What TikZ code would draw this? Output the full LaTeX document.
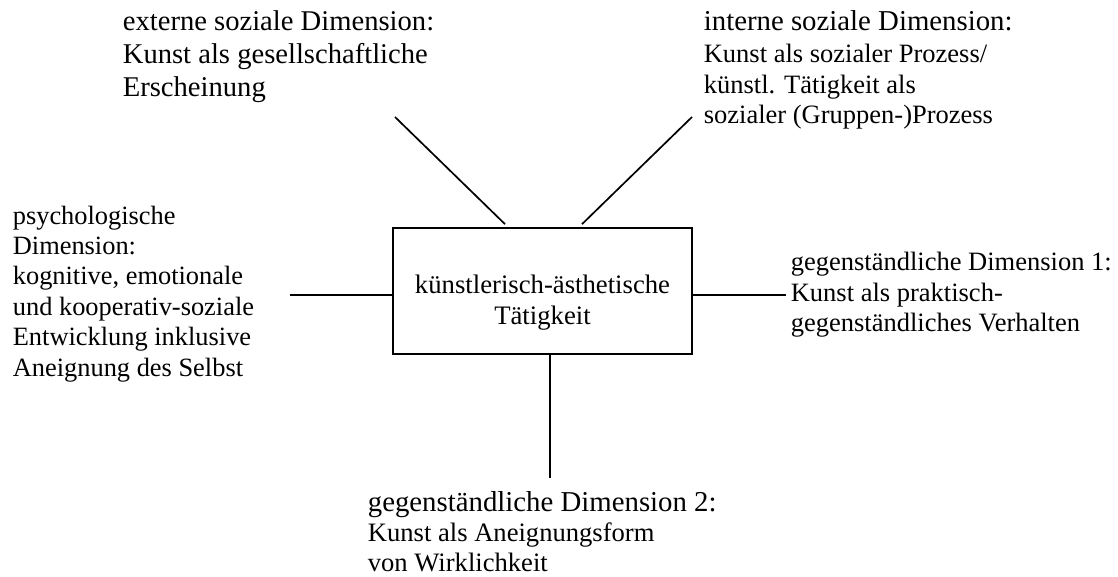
\documentclass[tikz,border=0pt]{standalone}
\usepackage{fontspec}
\setmainfont{Liberation Serif}
\begin{document}
\begin{tikzpicture}[x=1pt,y=-1pt,line width=1.7pt,
  lbl/.style={inner sep=0pt, anchor=base west, align=left},
  boxst/.style={draw, inner sep=0pt, minimum width=299pt, minimum height=126pt}]
\useasboundingbox (0,0) rectangle (1118,577);
% central box
\node[boxst] (box) at (542.5,291) {};
\node[inner sep=0pt, anchor=base, align=center, font=\fontsize{26.7}{31}\selectfont] (boxtext) at (542.5,324) {künstlerisch-ästhetische\\Tätigkeit};
% labels (anchor = baseline of the last line)
\node[lbl, font=\fontsize{28.6}{33}\selectfont] (ext) at (122,97) {externe soziale Dimension:\\Kunst als gesellschaftliche\\Erscheinung};
\node[lbl, font=\fontsize{26.5}{30.5}\selectfont] (int) at (703,124) {{\fontsize{28.8}{31.5}\selectfont interne soziale Dimension:}\\[2pt]Kunst als sozialer Prozess/\\künstl. Tätigkeit als\\sozialer (Gruppen-)Prozess};
\node[lbl, font=\fontsize{26.4}{30.4}\selectfont] (psy) at (12,376) {psychologische\\Dimension:\\kognitive, emotionale\\und kooperativ-soziale\\Entwicklung inklusive\\Aneignung des Selbst};
\node[lbl, font=\fontsize{26.5}{30.5}\selectfont] (geg1) at (790,331.5) {gegenständliche Dimension 1:\\Kunst als praktisch-\\gegenständliches Verhalten};
\node[lbl, font=\fontsize{26.6}{30}\selectfont] (geg2) at (367,571) {{\fontsize{28.8}{30}\selectfont gegenständliche Dimension 2:}\\Kunst als Aneignungsform\\von Wirklichkeit};
% connectors
\coordinate (lfree) at (290,295);
\coordinate (rfree) at (786,295);
\coordinate (bfree) at (550,478);
\coordinate (tlfree) at (395,117);
\coordinate (trfree) at (692,117);
\draw (lfree) -- (lfree -| box.west);
\draw (box.east |- rfree) -- (rfree);
\draw (bfree |- box.south) -- (bfree);
\draw (tlfree) -- ([xshift=-37.5pt,yshift=3pt]box.north);
\draw (trfree) -- ([xshift=39.5pt,yshift=3pt]box.north);
\end{tikzpicture}
\end{document}
